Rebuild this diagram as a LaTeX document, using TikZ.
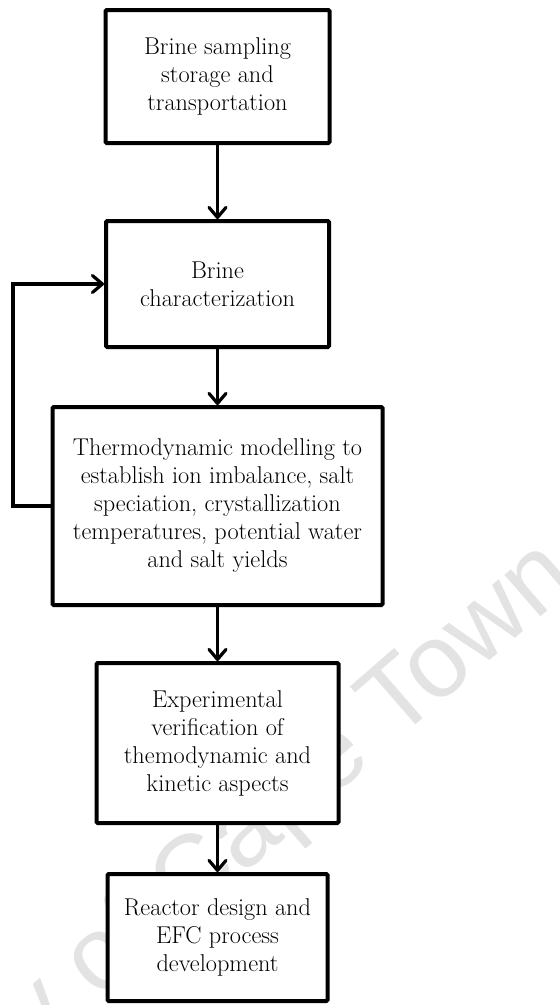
\documentclass[tikz,border=0pt]{standalone}
\usepackage{fontspec}
\newfontfamily\wmfont{Liberation Sans}
\usetikzlibrary{arrows.meta}

\tikzset{
  stepbox/.style={draw=black, line width=4pt, fill=white, rounded corners=1.2pt,
    inner sep=0pt, align=center,
    font=\fontsize{24.3}{28}\selectfont},
  flow/.style={line width=3.2pt, line join=miter,
    -{Straight Barb[length=10pt,width=17pt,round]}},
  wm/.style={text=black!11, inner sep=0pt, font=\wmfont\fontsize{104}{104}\selectfont}
}

\begin{document}
\begin{tikzpicture}[x=1pt, y=-1pt]
  % page area
  \fill[white] (0,0) rectangle (560,1005);
  \useasboundingbox (0,0) rectangle (560,1005);

  % faint background lettering
  \node[wm, anchor=base east, rotate=41] (wmark) at (579,583) {University of Cape Town};

  % process steps
  \node[stepbox, minimum width=224pt, minimum height=133pt] (b1) at (217.5,76.5)
    {Brine sampling\\storage and\\transportation};
  \node[stepbox, minimum width=223pt, minimum height=126pt] (b2) at (217.5,284)
    {Brine\\characterization};
  \node[stepbox, minimum width=330pt, minimum height=198pt] (b3) at (217.5,506)
    {Thermodynamic modelling to\\establish ion imbalance, salt\\speciation, crystallization\\temperatures, potential water\\and salt yields};
  \node[stepbox, minimum width=242pt, minimum height=160pt] (b4) at (217.5,743)
    {Experimental\\verification of\\themodynamic and\\kinetic aspects};
  \node[stepbox, minimum width=220pt, minimum height=127pt] (b5) at (217.5,937.5)
    {Reactor design and\\EFC process\\development};

  % forward flow
  \draw[flow] (b1.south) -- (b2.north);
  \draw[flow] (b2.south) -- (b3.north);
  \draw[flow] (b3.south) -- (b4.north);
  \draw[flow] (b4.south) -- (b5.north);

  % feedback loop from modelling back to characterization
  \coordinate (loop) at (13,506);
  \draw[flow] (b3.west) -- (loop) |- (b2.west);
\end{tikzpicture}
\end{document}
